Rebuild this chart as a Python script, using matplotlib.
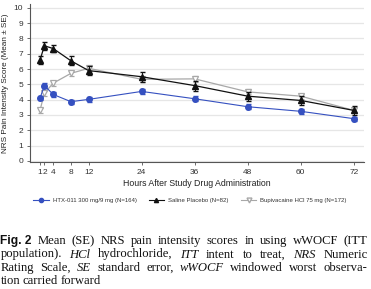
import matplotlib
matplotlib.use("Agg")
import matplotlib.pyplot as plt
from matplotlib.lines import Line2D

hours = [1, 2, 4, 8, 12, 24, 36, 48, 60, 72]
htx_mean = [4.10, 4.92, 4.34, 3.87, 4.02, 4.54, 4.06, 3.54, 3.24, 2.76]
htx_se = [0.15, 0.15, 0.15, 0.14, 0.14, 0.15, 0.15, 0.15, 0.15, 0.14]
sal_mean = [6.59, 7.52, 7.34, 6.54, 5.90, 5.50, 4.92, 4.23, 3.95, 3.30]
sal_se = [0.28, 0.25, 0.24, 0.30, 0.28, 0.33, 0.33, 0.30, 0.28, 0.30]
bup_mean = [3.30, 4.43, 5.08, 5.72, 6.05, 5.33, 5.36, 4.51, 4.23, 3.30]
bup_se = [0.17, 0.17, 0.17, 0.16, 0.17, 0.18, 0.18, 0.17, 0.17, 0.18]
xticks = [1, 2, 4, 8, 12, 24, 36, 48, 60, 72]
xtick_labels = ["1", "2", "4", "8", "12", "24", "36", "48", "60", "72"]
yticks = list(range(0, 11))
labels = ["HTX-011 300 mg/9 mg (N=164)", "Saline Placebo (N=82)", "Bupivacaine HCl 75 mg (N=172)"]

plt.rcParams["font.family"] = ["Liberation Sans", "DejaVu Sans"]

W, H = 371, 289
fig = plt.figure(figsize=(W / 100, H / 100), dpi=100)
ax = fig.add_axes([30 / W, 1 - 162 / H, (364 - 30) / W, (162 - 4) / H])

blue = "#3550c0"
black = "#111111"
gray = "#a8a8a8"

ax.errorbar(hours, bup_mean, yerr=bup_se, color=gray, lw=0.9, marker="v", ms=4.5,
            mfc="white", mec=gray, mew=0.9, capsize=1.8, elinewidth=0.7, zorder=3)
ax.errorbar(hours, sal_mean, yerr=sal_se, color=black, lw=0.9, marker="^", ms=4,
            mfc=black, mec=black, capsize=1.8, elinewidth=0.7, zorder=4)
ax.errorbar(hours, htx_mean, yerr=htx_se, color=blue, lw=0.8, marker="o", ms=4,
            mfc=blue, mec=blue, capsize=1.8, elinewidth=0.7, zorder=5)

ax.set_xlim(-1.26, 74.3)
ax.set_ylim(-0.07, 10.25)
ax.set_xticks(xticks)
ax.set_xticklabels(xtick_labels, fontsize=6.0, color="#333333")
ax.set_yticks(yticks)
ax.set_yticklabels([str(v) for v in yticks], fontsize=6.0, color="#333333")
ax.yaxis.grid(True, color="#e6e6e6", lw=0.9)
ax.set_axisbelow(True)
for s in ["top", "right"]:
    ax.spines[s].set_visible(False)
for s in ["left", "bottom"]:
    ax.spines[s].set_color("#555555")
    ax.spines[s].set_linewidth(0.8)
ax.tick_params(length=2.5, width=0.6, color="#555555", pad=2.5)
ax.set_ylabel("NRS Pain Intensity Score (Mean ± SE)", fontsize=5.9, color="#222222", labelpad=3.5)
ax.set_xlabel("Hours After Study Drug Administration", fontsize=6.3, color="#222222", labelpad=2.5)

handles = [
    Line2D([], [], color=blue, lw=0.8, marker="o", ms=3, mfc=blue, mec=blue),
    Line2D([], [], color=black, lw=0.8, marker="^", ms=3, mfc=black, mec=black),
    Line2D([], [], color=gray, lw=0.8, marker="v", ms=3.5, mfc="white", mec=gray),
]
fig.legend(handles, labels, loc="center", bbox_to_anchor=(190 / W, 1 - 200 / H), ncol=3,
           fontsize=4.3, frameon=False, handlelength=2.6, columnspacing=2.0, handletextpad=0.7,
           labelcolor="#333333")

# caption, justified
serif = "Liberation Serif"
fs = 9.1
cap_lines = [
    [("Fig. 2", "bold"), ("Mean", "r"), ("(SE)", "r"), ("NRS", "r"), ("pain", "r"), ("intensity", "r"),
     ("scores", "r"), ("in", "r"), ("using", "r"), ("wWOCF", "r"), ("(ITT", "r")],
    [("population).", "r"), ("HCl", "i"), ("hydrochloride,", "r"), ("ITT", "i"), ("intent", "r"),
     ("to", "r"), ("treat,", "r"), ("NRS", "i"), ("Numeric", "r")],
    [("Rating", "r"), ("Scale,", "r"), ("SE", "i"), ("standard", "r"), ("error,", "r"),
     ("wWOCF", "i"), ("windowed", "r"), ("worst", "r"), ("observa-", "r")],
    [("tion", "r"), ("carried", "r"), ("forward", "r")],
]
baselines = [244, 257.5, 271, 284.5]
x0, x1 = 0.5, 367.5
renderer = fig.canvas.get_renderer()
for li, (words, yb) in enumerate(zip(cap_lines, baselines)):
    objs = []
    for w, st in words:
        if st == "bold":
            t = fig.text(0, 1 - yb / H, w, fontsize=fs * 0.95, family="Liberation Sans", weight="bold",
                         va="baseline", color="#111111")
        elif st == "i":
            t = fig.text(0, 1 - yb / H, w, fontsize=fs, family=serif, style="italic",
                         va="baseline", color="#111111")
        else:
            t = fig.text(0, 1 - yb / H, w, fontsize=fs, family=serif, va="baseline", color="#111111")
        objs.append(t)
    widths = [o.get_window_extent(renderer).width for o in objs]
    if li < len(cap_lines) - 1:
        gap = (x1 - x0 - sum(widths)) / (len(objs) - 1)
    else:
        gap = 2.8
    x = x0
    for o, wd in zip(objs, widths):
        o.set_x(x / W)
        x += wd + gap

fig.savefig("out.png", dpi=100)
